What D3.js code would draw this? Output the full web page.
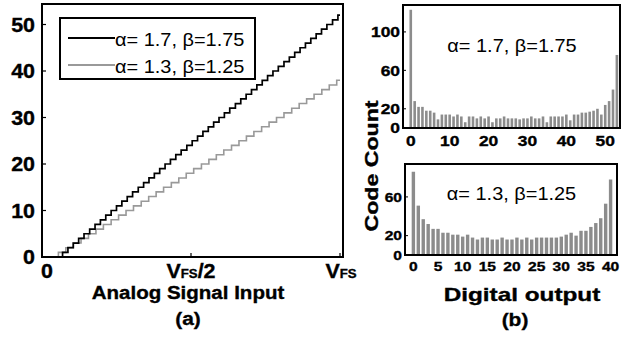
<!DOCTYPE html>
<html>
<head>
<meta charset="utf-8">
<script src="https://cdn.jsdelivr.net/npm/d3@7"></script>
<style>
  body { margin: 0; background: #fff; }
  svg { display: block; }
  text { font-family: "Liberation Sans", Arial, sans-serif; fill: #000; }
  text.b { font-weight: bold; stroke: #000; stroke-width: 0.35; }
</style>
</head>
<body>
<svg id="chart" width="641" height="337"></svg>
<script>
// transition points (fraction of V_FS) where the output code steps up to k = 1, 2, ...
const stepsA = [0.069, 0.087, 0.105, 0.123, 0.141, 0.160, 0.178, 0.196, 0.214, 0.232,
  0.250, 0.268, 0.286, 0.304, 0.323, 0.341, 0.359, 0.377, 0.395, 0.413,
  0.431, 0.449, 0.467, 0.486, 0.504, 0.522, 0.540, 0.558, 0.576, 0.594,
  0.612, 0.630, 0.649, 0.667, 0.685, 0.703, 0.721, 0.739, 0.757, 0.775,
  0.793, 0.812, 0.830, 0.848, 0.866, 0.884, 0.902, 0.920, 0.938, 0.956,
  0.975, 0.993];
const stepsB = [0.055, 0.080, 0.105, 0.131, 0.156, 0.181, 0.206, 0.232, 0.257, 0.282,
  0.307, 0.333, 0.358, 0.383, 0.408, 0.434, 0.459, 0.484, 0.509, 0.535,
  0.560, 0.585, 0.610, 0.636, 0.661, 0.686, 0.711, 0.737, 0.762, 0.787,
  0.812, 0.838, 0.863, 0.888, 0.913, 0.939, 0.964, 0.989];
const legendLabels = ["α= 1.7, β=1.75", "α= 1.3, β=1.25"];

// code histograms, index = digital output code
const histA = [123, 28, 22, 22, 18, 18, 16, 9, 14, 14,
  14, 12, 14, 12, 6, 12, 12, 10, 12, 10,
  12, 6, 10, 10, 12, 10, 10, 10, 9, 10,
  10, 12, 10, 10, 12, 6, 12, 12, 12, 12,
  14, 8, 14, 14, 16, 16, 17, 18, 20, 14,
  24, 28, 40, 76];
const histB = [86, 51, 37, 32, 27, 27, 23, 23, 21, 21,
  19, 21, 18, 16, 18, 18, 16, 16, 18, 16,
  16, 18, 16, 18, 16, 18, 18, 18, 18, 18,
  19, 21, 23, 20, 25, 25, 29, 33, 38, 53,
  78];

const yTicksLeft = [0, 10, 20, 30, 40, 50];
const yTicksA = [0, 20, 60, 100];
const xTicksA = [0, 10, 20, 30, 40, 50];
const yTicksB = [0, 20, 60];
const xTicksB = [0, 5, 10, 15, 20, 25, 30, 35, 40];

const svg = d3.select('#chart');

// text helper, sx stretches glyphs along the text like the original figure
function label(parent, x, y, s, opt = {}) {
  const t = parent.append('text')
    .attr('class', opt.bold ? 'b' : null)
    .attr('transform', `translate(${x},${y})` + (opt.rot ? ` rotate(${opt.rot})` : '') + ` scale(${opt.sx || 1},1)`)
    .attr('text-anchor', opt.anchor || 'middle')
    .attr('font-size', opt.size || 14);
  if (typeof s === 'string') t.text(s);
  else s(t);
  return t;
}

// ---------- (a) transfer curves ----------
const x = d3.scaleLinear().domain([0, 1]).range([42, 340]);
const y = d3.scaleLinear().domain([0, 10]).range([257, 210.5]);
const frameA = { x0: 42, x1: 343, y0: 4, y1: 257 };

const gA = svg.append('g');

const stair = d3.line()
  .x(d => x(d[0]))
  .y(d => y(d[1]))
  .curve(d3.curveStepAfter);

function stairPoints(steps) {
  const pts = [[0, 0]];
  steps.forEach((t, i) => pts.push([t, i + 1]));
  pts.push([1, steps.length]);
  return pts;
}

gA.append('path')
  .attr('d', stair(stairPoints(stepsB)))
  .attr('fill', 'none')
  .attr('stroke', '#999')
  .attr('stroke-width', 1.6);
gA.append('path')
  .attr('d', stair(stairPoints(stepsA)))
  .attr('fill', 'none')
  .attr('stroke', '#000')
  .attr('stroke-width', 1.7);

gA.append('rect')
  .attr('x', frameA.x0).attr('y', frameA.y0)
  .attr('width', frameA.x1 - frameA.x0).attr('height', frameA.y1 - frameA.y0)
  .attr('fill', 'none').attr('stroke', '#000').attr('stroke-width', 2);

yTicksLeft.forEach(v => {
  gA.append('line')
    .attr('x1', frameA.x0).attr('x2', frameA.x0 + 4)
    .attr('y1', y(v)).attr('y2', y(v))
    .attr('stroke', '#000').attr('stroke-width', 1.2);
  label(gA, 35, y(v) + 7, String(v), { anchor: 'end', size: 19.5, bold: true, sx: 1.1 });
});
[0, 0.5, 1].forEach(v => {
  gA.append('line')
    .attr('x1', x(v)).attr('x2', x(v))
    .attr('y1', frameA.y1).attr('y2', frameA.y1 - 4)
    .attr('stroke', '#000').attr('stroke-width', 1.2);
});
label(gA, 47, 278, '0', { size: 19.5, bold: true, sx: 1.1 });
label(gA, x(0.5), 278, t => {
  t.append('tspan').text('V');
  t.append('tspan').attr('font-size', 12).text('FS');
  t.append('tspan').text('/2');
}, { size: 19.5, bold: true, sx: 1.1 });
label(gA, x(1) + 1, 278, t => {
  t.append('tspan').text('V');
  t.append('tspan').attr('font-size', 12).text('FS');
}, { size: 19.5, bold: true, sx: 1.1 });

label(gA, 188, 299, 'Analog Signal Input', { size: 19, bold: true, sx: 1.08 });
label(gA, 188, 325, '(a)', { size: 19, bold: true, sx: 1.1 });

// legend
const leg = gA.append('g');
leg.append('rect')
  .attr('x', 60).attr('y', 18).attr('width', 195).attr('height', 61)
  .attr('fill', '#fff').attr('stroke', '#000').attr('stroke-width', 2);
[['#000', 38], ['#999', 65]].forEach(([c, ly], i) => {
  leg.append('line')
    .attr('x1', 68).attr('x2', 115).attr('y1', ly).attr('y2', ly)
    .attr('stroke', c).attr('stroke-width', 1.8);
  label(leg, 115, ly + 8, legendLabels[i], { anchor: 'start', size: 19, sx: 1.05 });
});

// ---------- (b) histograms ----------
function histogram(data, box, xDom, yDom, xTicks, yTicks, barW, tickSize, note, noteY) {
  const g = svg.append('g');
  const hx = d3.scaleLinear().domain(xDom).range([box.x0, box.x1]);
  const hy = d3.scaleLinear().domain(yDom).range([box.y1, box.y0]);

  g.selectAll('rect.bar')
    .data(data)
    .enter()
    .append('rect')
    .attr('class', 'bar')
    .attr('x', (d, i) => hx(i) - barW / 2)
    .attr('width', barW)
    .attr('y', d => hy(Math.min(d, yDom[1])))
    .attr('height', d => hy(0) - hy(Math.min(d, yDom[1])))
    .attr('fill', '#8c8c8c');

  g.append('rect')
    .attr('x', box.x0).attr('y', box.y0)
    .attr('width', box.x1 - box.x0).attr('height', box.y1 - box.y0)
    .attr('fill', 'none').attr('stroke', '#000').attr('stroke-width', 2);

  yTicks.forEach(v => {
    g.append('line')
      .attr('x1', box.x0).attr('x2', box.x0 + 3)
      .attr('y1', hy(v)).attr('y2', hy(v))
      .attr('stroke', '#000').attr('stroke-width', 1);
    label(g, box.x0 - 3, hy(v) + tickSize * 0.36, String(v), { anchor: 'end', size: tickSize, bold: true, sx: 1.2 });
  });
  xTicks.forEach(v => {
    label(g, hx(v), box.y1 + tickSize + 3, String(v), { size: tickSize, bold: true, sx: 1.2 });
  });

  label(g, (box.x0 + box.x1) / 2 + 0.5, noteY, note, { size: 19, sx: 1.05 });
  return g;
}

histogram(histA, { x0: 403, x1: 620, y0: 5, y1: 128 }, [-2, 53.8], [0, 128],
  xTicksA, yTicksA, 2.6, 14.5, legendLabels[0], 52);
histogram(histB, { x0: 405, x1: 617, y0: 164, y1: 255 }, [-1.7, 41.3], [0, 94],
  xTicksB, yTicksB, 3.4, 13, legendLabels[1], 200);

label(svg, 378, 166, 'Code Count', { size: 18.5, bold: true, rot: -90, sx: 1.25 });
label(svg, 522, 301, 'Digital output', { size: 19, bold: true, sx: 1.28 });
label(svg, 515, 326, '(b)', { size: 19, bold: true, sx: 1.1 });
</script>
</body>
</html>
